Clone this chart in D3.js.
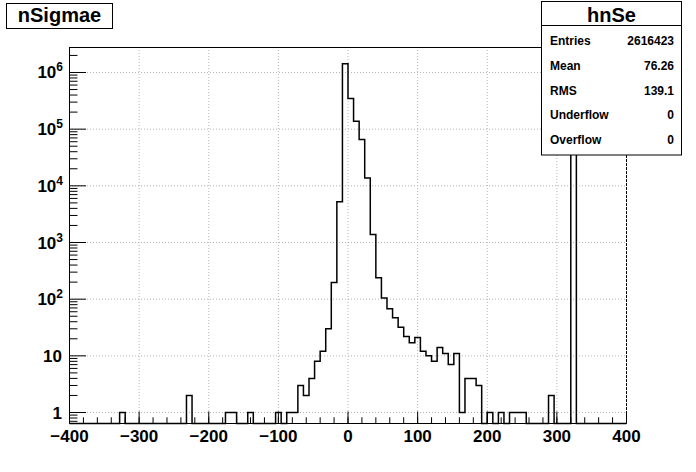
<!DOCTYPE html>
<html><head><meta charset="utf-8">
<script src="https://cdn.jsdelivr.net/npm/d3@7/dist/d3.min.js"></script>
<style>
body{margin:0;background:#fff}
svg{display:block}
text{font-family:"Liberation Sans",Arial,Helvetica,sans-serif;font-weight:bold;fill:#000}
</style>
</head><body>
<svg id="c" width="696" height="472"></svg>
<script>
// ---- data ----
const xMin = -400, xMax = 400, nBins = 100;   // bin width 8
const counts = [
  0,0,0,0,0,0,0,0,0,1,            // -400 .. -320
  0,0,0,0,0,0,0,0,0,0,            // -320 .. -240
  0,2,0,0,0,0,0,0,1,1,            // -240 .. -160
  0,0,1,0,0,0,0,1,0,1,            // -160 .. -80
  1,3,2,4,8,12,30,196,5250,1430000, // -80 .. 0
  346000,138000,66000,13700,1380,240,105,68,47,32, // 0 .. 80
  22,17,21,12,10,8,14,11,7,11,    // 80 .. 160
  1,4,4,3,0,1,0,1,0,1,            // 160 .. 240
  1,1,0,0,0,0,2,0,0,0,            // 240 .. 320
  619000,0,0,0,0,0,0,0,0,0        // 320 .. 400
];
const xMajorTicks = [-400,-300,-200,-100,0,100,200,300,400];
const xTickLabels = ["\u2212400","\u2212300","\u2212200","\u2212100","0","100","200","300","400"];
const yMajorTicks = [1,10,100,1000,10000,100000,1000000];
const yTickBase = ["1","10","10","10","10","10","10"];
const yTickExp  = ["","","2","3","4","5","6"];
const histTitle = "nSigmae";
const statsTitle = "hnSe";
const statsLabels = ["Entries","Mean","RMS","Underflow","Overflow"];
const statsValues = ["2616423","76.26","139.1","0","0"];

// ---- layout ----
const L = 69, R = 626, T = 47, B = 423;
const svg = d3.select("#c");
const x = d3.scaleLinear().domain([xMin, xMax]).range([L, R]);
const y = d3.scaleLog().domain([0.64, 2.76e6]).range([B, T]);
const o = 0.5;

// grid
const grid = svg.append("g");
yMajorTicks.forEach(v => {
  grid.append("line").attr("x1", L).attr("x2", R).attr("y1", y(v)+o).attr("y2", y(v)+o)
    .attr("stroke", "#b4b4b4").attr("stroke-dasharray", "1,2");
});
xMajorTicks.filter(v => v > xMin && v < xMax).forEach(v => {
  grid.append("line").attr("x1", x(v)+o).attr("x2", x(v)+o).attr("y1", T).attr("y2", B)
    .attr("stroke", "#b4b4b4").attr("stroke-dasharray", "1,2");
});
// right edge (dashed)
svg.append("line").attr("x1", R+o).attr("x2", R+o).attr("y1", T).attr("y2", B)
  .attr("stroke", "#000").attr("stroke-dasharray", "3,1");

// histogram
const bw = (xMax - xMin) / nBins;
const pts = [];
counts.forEach((c, i) => {
  const yy = c > 0 ? y(c) : B;
  pts.push([x(xMin + i*bw)+o, yy+o]);
  pts.push([x(xMin + (i+1)*bw)+o, yy+o]);
});
svg.append("path").attr("d", d3.line()(pts)).attr("fill", "none")
  .attr("stroke", "#000").attr("stroke-width", 1.5);

// frame top
svg.append("line").attr("x1", L).attr("x2", R+1).attr("y1", T+o).attr("y2", T+o).attr("stroke", "#000");

// x axis
const xMinor = d3.range(xMin, xMax + 1, 20);
svg.append("g").attr("transform", `translate(0,${B})`)
  .call(d3.axisBottom(x).tickValues(xMinor).tickSizeInner(-5.7).tickSizeOuter(0).tickFormat(""));
const gx = svg.append("g").attr("transform", `translate(0,${B})`)
  .call(d3.axisBottom(x).tickValues(xMajorTicks).tickSizeInner(-11.5).tickSizeOuter(0)
    .tickFormat((d, i) => xTickLabels[i]));
gx.selectAll("text").attr("y", 19).attr("dy", null).style("font-size", "17px")
  .style("font-family", '"Liberation Sans",Arial,sans-serif').style("font-weight", "bold").attr("fill", "#000");
svg.selectAll(".domain, .tick line").attr("stroke", "#000");

// y axis
const yMinor = [];
[-1,0,1,2,3,4,5,6].forEach(e => { for (let k = 2; k <= 9; k++) { const v = k * Math.pow(10, e); if (v >= 0.64 && v <= 2.76e6) yMinor.push(v); } });
svg.append("g").attr("transform", `translate(${L},0)`)
  .call(d3.axisLeft(y).tickValues(yMinor).tickSizeInner(-8.5).tickSizeOuter(0).tickFormat(""));
const gy = svg.append("g").attr("transform", `translate(${L},0)`)
  .call(d3.axisLeft(y).tickValues(yMajorTicks).tickSizeInner(-17).tickSizeOuter(0).tickFormat(""));
svg.selectAll(".domain, .tick line").attr("stroke", "#000");

yMajorTicks.forEach((v, i) => {
  const t = svg.append("text").attr("x", yTickExp[i] ? 63 : 62).attr("y", y(v) + o + 6)
    .attr("text-anchor", "end").style("font-size", "17px");
  t.append("tspan").text(yTickBase[i]);
  if (yTickExp[i]) t.append("tspan").attr("dy", -7).style("font-size", "12px").text(yTickExp[i]);
});

// title box
svg.append("rect").attr("x", 6.5).attr("y", 3.5).attr("width", 106).attr("height", 25)
  .attr("fill", "#fff").attr("stroke", "#000");
svg.append("text").attr("x", 59.5).attr("y", 22).attr("text-anchor", "middle")
  .style("font-size", "20px").text(histTitle);

// stats box
const sx = 541.5, sy = 1.5, sw = 140, sh = 153.5;
svg.append("rect").attr("x", sx).attr("y", sy).attr("width", sw).attr("height", sh)
  .attr("fill", "#fff").attr("stroke", "#000");
svg.append("line").attr("x1", sx).attr("x2", sx + sw).attr("y1", 25.5).attr("y2", 25.5).attr("stroke", "#000");
svg.append("text").attr("x", sx + sw/2).attr("y", 22).attr("text-anchor", "middle")
  .style("font-size", "20px").text(statsTitle);
const rowBase = [45, 70, 94.5, 119.3, 144];
statsLabels.forEach((lab, i) => {
  svg.append("text").attr("x", 550).attr("y", rowBase[i]).style("font-size", "12px").text(lab);
  svg.append("text").attr("x", 674).attr("y", rowBase[i]).attr("text-anchor", "end")
    .style("font-size", "12px").text(statsValues[i]);
});
</script>
</body></html>
